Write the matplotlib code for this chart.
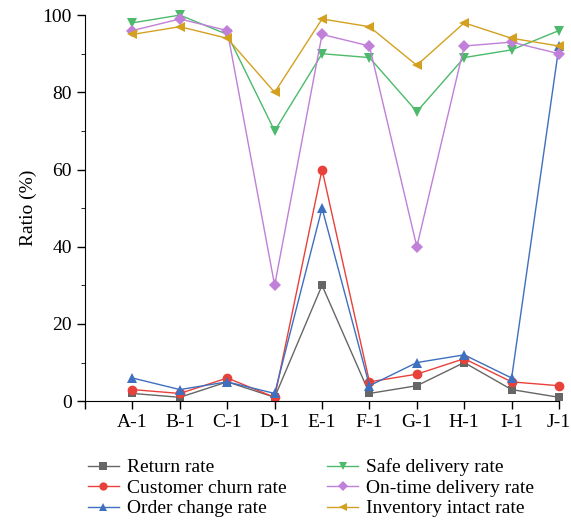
import matplotlib
matplotlib.use("Agg")
import matplotlib.pyplot as plt
from matplotlib.ticker import MultipleLocator

plt.rcParams['font.family'] = ['Liberation Serif', 'DejaVu Serif']

# Дані
categories = ["A-1", "B-1", "C-1", "D-1", "E-1", "F-1", "G-1", "H-1", "I-1", "J-1"]
return_rate = [2, 1, 5, 1, 30, 2, 4, 10, 3, 1]
churn_rate = [3, 2, 6, 1, 60, 5, 7, 11, 5, 4]
order_change = [6, 3, 5, 2, 50, 4, 10, 12, 6, 92]
safe_delivery = [98, 100, 95, 70, 90, 89, 75, 89, 91, 96]
on_time = [96, 99, 96, 30, 95, 92, 40, 92, 93, 90]
inventory = [95, 97, 94, 80, 99, 97, 87, 98, 94, 92]

series = [
    ("Return rate", return_rate, "#666666", "s", 6),
    ("Customer churn rate", churn_rate, "#e8413a", "o", 7),
    ("Order change rate", order_change, "#3f6fbf", "^", 7.5),
    ("Safe delivery rate", safe_delivery, "#4cba6a", "v", 7.5),
    ("On-time delivery rate", on_time, "#c07fd8", "D", 6),
    ("Inventory intact rate", inventory, "#d4a020", "<", 7.5),
]

fig = plt.figure(figsize=(5.71, 5.21), dpi=100)
ax = fig.add_axes([0.149, 0.23, 0.830, 0.741])

x = list(range(1, len(categories) + 1))
for label, vals, color, marker, ms in series:
    ax.plot(x, vals, color=color, marker=marker, markersize=ms, linewidth=1,
            markeredgewidth=0, label=label, clip_on=False)

ax.set_xlim(0, 10)
ax.set_ylim(0, 100)
ax.set_xticks(range(0, 11))
ax.set_xticklabels([""] + categories)
ax.yaxis.set_major_locator(MultipleLocator(20))
ax.yaxis.set_minor_locator(MultipleLocator(10))
ax.tick_params(axis="both", direction="out", labelsize=14, length=6, width=1)
ax.tick_params(axis="y", which="minor", direction="out", length=3)
ax.set_ylabel("Ratio (%)", fontsize=14)

ax.spines["top"].set_visible(False)
ax.spines["right"].set_visible(False)

fig.legend(loc="upper left", bbox_to_anchor=(0.14, 0.135), ncol=2, frameon=False,
           fontsize=14, handlelength=1.6, handletextpad=0.4, columnspacing=2.1,
           labelspacing=0.15, borderaxespad=0, markerscale=0.85)

fig.savefig("out.png", dpi=100)
